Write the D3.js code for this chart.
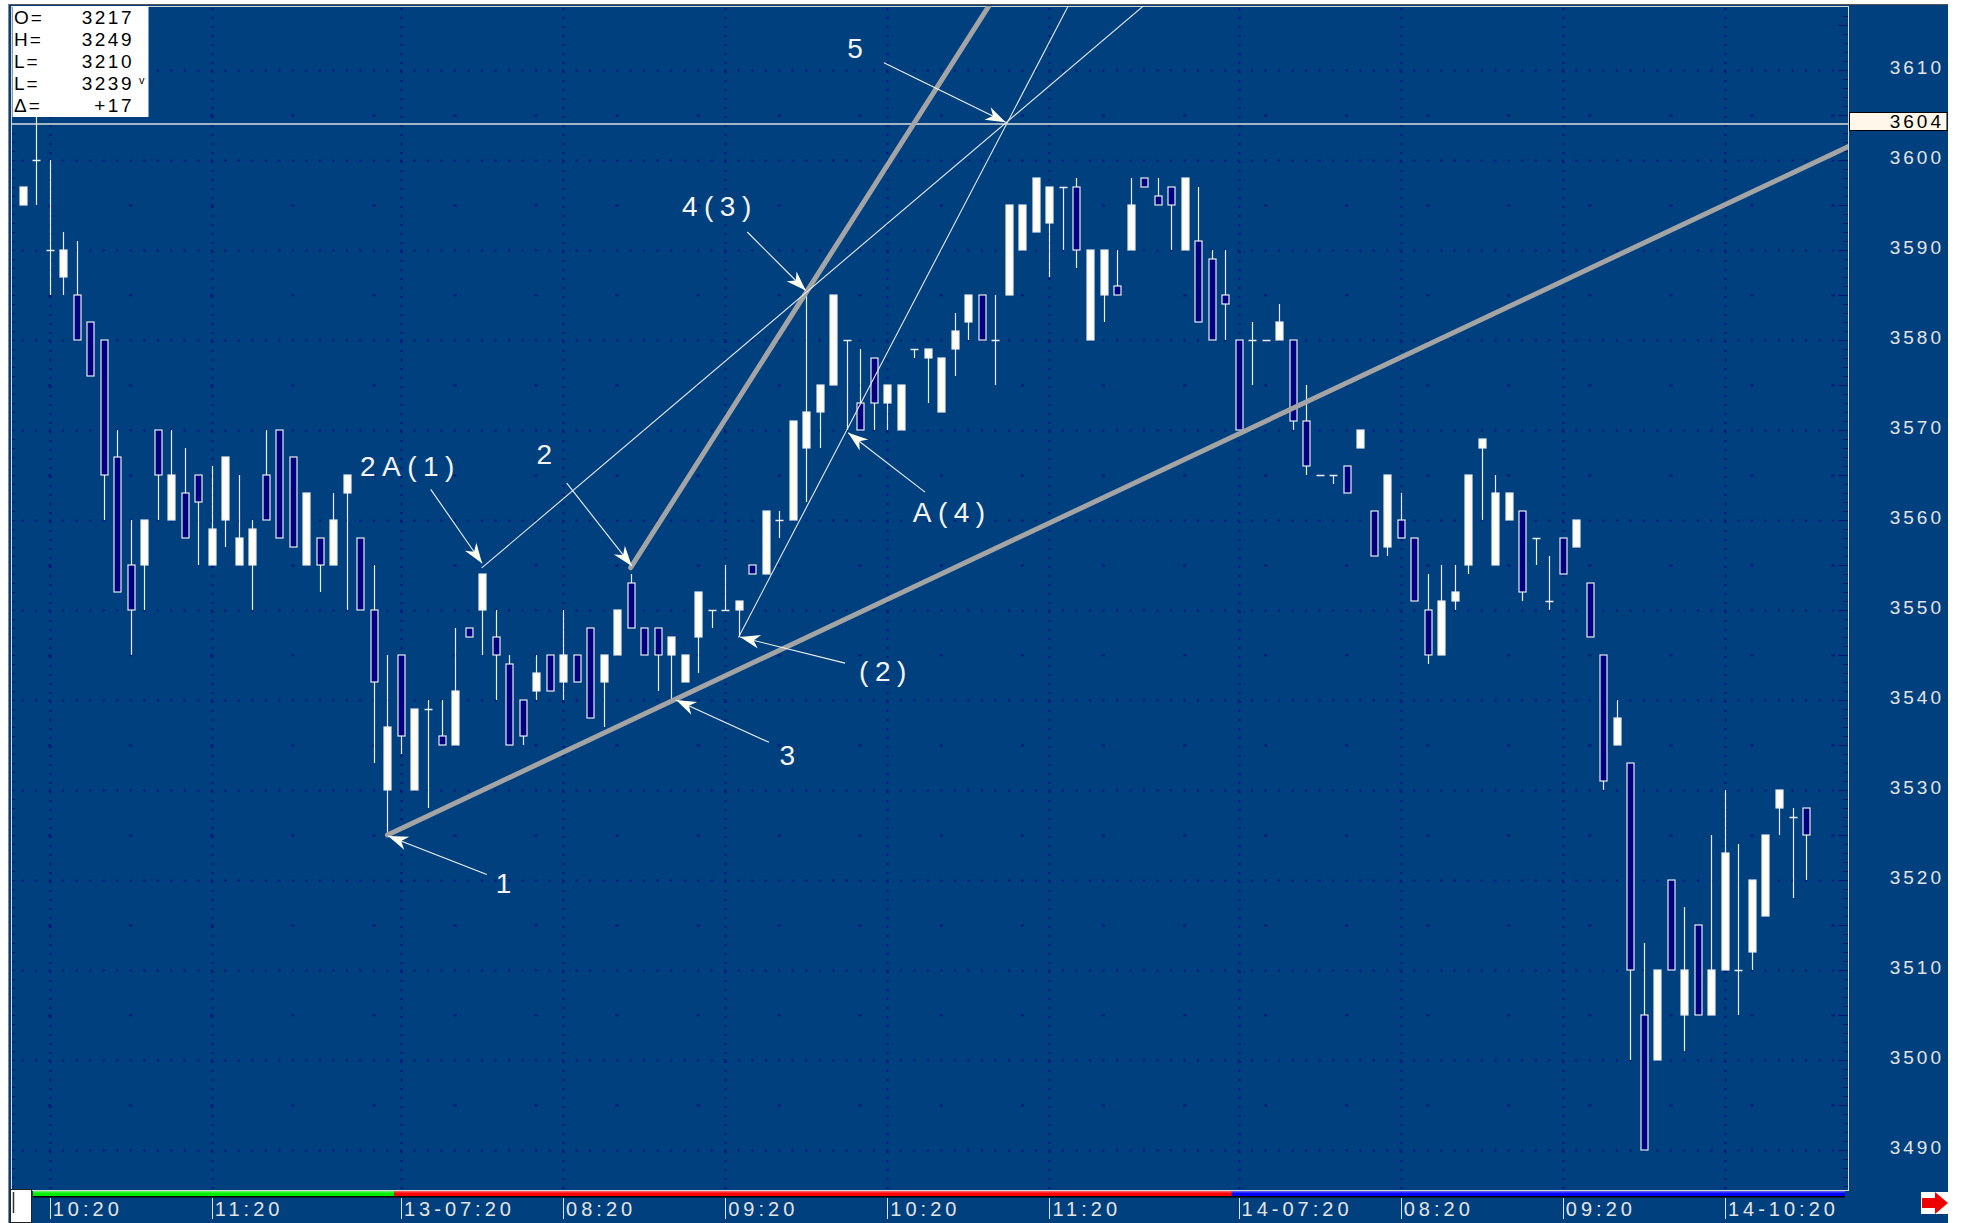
<!DOCTYPE html>
<html><head><meta charset="utf-8">
<script src="https://cdn.jsdelivr.net/npm/d3@7"></script>
<style>body{margin:0;background:#fff;} svg{display:block;}</style>
</head><body>
<script>
// ---------- DATA (5-minute candles, index 0..132) ----------
const opens  = [3595,3600,3590,3587,3585,3582,3580,3567,3555,3555,3570,3560,3563,3565,3555,3560,3555,3555,3565,3570,3567,3555,3558,3555,3563,3558,3550,3530,
 3545,3530,3539,3536,3535,3548,3550,3547,3544,3540,3541,3545,3542,3545,3548,3542,3545,3553,3548,3548,3545,3542,3547,3550,3550,3550,3555,3554,3560,3560,3568,3572,3575,3580,3573,3578,3573,3570,3579,3578,3572,3579,3582,3585,3580,3585,3590,3592,3593,3597,3597,3580,3585,3586,3590,3598,3596,3597,3590,3591,3589,3585,
 3580,3580,3580,3580,3580,3571,3565,3565,3566,3568,3561,3557,3560,3558,3550,3545,3551,3555,3568,3555,3560,3561,3558,3551,3558,3557,3553,3545,3535,3533,3505,3500,3520,3505,3515,3505,3510,3510,3512,3516,3528,3527,3528];
const highs  = [3597,3606,3600,3592,3591,3582,3580,3570,3560,3560,3570,3570,3568,3565,3566,3567,3565,3560,3570,3570,3567,3563,3558,3563,3565,3558,3555,3545,
 3545,3539,3540,3540,3548,3548,3554,3550,3545,3540,3545,3545,3550,3545,3548,3545,3550,3554,3548,3548,3547,3545,3552,3550,3555,3551,3555,3561,3561,3571,3585,3575,3585,3580,3579,3578,3575,3575,3579,3579,3578,3583,3585,3585,3585,3595,3595,3598,3597,3597,3598,3590,3590,3590,3598,3598,3598,3597,3598,3597,3590,3590,
 3580,3582,3580,3584,3580,3575,3565,3565,3566,3570,3561,3565,3563,3558,3554,3555,3555,3565,3569,3565,3563,3561,3558,3556,3558,3560,3553,3545,3540,3533,3513,3510,3520,3517,3515,3525,3530,3524,3520,3525,3530,3528,3528];
const lows   = [3595,3595,3585,3585,3580,3576,3560,3552,3545,3550,3560,3560,3558,3555,3555,3557,3555,3550,3560,3558,3557,3555,3552,3555,3550,3550,3533,3525,
 3534,3530,3528,3535,3535,3547,3545,3540,3535,3535,3540,3541,3540,3542,3538,3537,3545,3548,3545,3541,3540,3542,3543,3548,3550,3547,3554,3554,3558,3560,3562,3568,3575,3570,3570,3570,3570,3570,3578,3573,3572,3576,3580,3580,3575,3585,3590,3592,3587,3590,3588,3580,3582,3585,3590,3597,3595,3590,3590,3582,3580,3580,
 3570,3575,3580,3580,3570,3565,3565,3564,3563,3568,3556,3556,3558,3551,3544,3545,3550,3554,3560,3555,3560,3551,3555,3550,3554,3557,3547,3530,3535,3500,3490,3500,3510,3501,3505,3505,3510,3505,3510,3516,3525,3518,3520];
const closes = [3597,3600,3590,3590,3580,3576,3565,3552,3550,3560,3565,3565,3558,3562,3559,3567,3558,3559,3560,3558,3557,3563,3555,3560,3565,3550,3542,3537,
 3536,3539,3539,3535,3541,3547,3554,3545,3535,3536,3543,3541,3545,3542,3538,3545,3550,3548,3545,3545,3547,3545,3552,3550,3550,3551,3554,3561,3560,3571,3572,3575,3585,3580,3570,3573,3575,3575,3579,3579,3578,3581,3585,3580,3580,3595,3595,3598,3597,3597,3590,3590,3590,3585,3595,3597,3595,3595,3598,3582,3580,3584,
 3570,3580,3580,3582,3571,3566,3565,3565,3563,3570,3556,3565,3558,3551,3545,3551,3552,3565,3569,3563,3563,3552,3558,3551,3554,3560,3547,3531,3538,3510,3490,3510,3510,3510,3505,3510,3523,3510,3520,3525,3530,3527,3525];

// price axis ticks
const priceTicks = [3490,3500,3510,3520,3530,3540,3550,3560,3570,3580,3590,3600,3610];
// time axis: candle index of each label
const timeTickIdx    = [2,14,28,40,52,64,76,90,102,114,126];
const timeTickLabels = ["10:20","11:20","13-07:20","08:20","09:20","10:20","11:20","14-07:20","08:20","09:20","14-10:20"];
// sessions: first candle index of each day
const sessionFirst = [0,28,90];
// current price line
const lastPrice = 3604;
// info box
const infoKeys = ["O=","H=","L=","L=","\u0394="];
const infoVals = ["3217","3249","3210","3239","+17"];

// trend lines: anchor A (start), anchor B (direction), both as [candle index, price]
const trendStartIdx   = [27, 45, 34, 53];
const trendStartPrice = [3525, 3554.7, 3554.7, 3547];
const trendDirIdx     = [135, 58, 58, 61];
const trendDirPrice   = [3601.4, 3585.3, 3585.3, 3570];
const trendHeavy      = [true, true, false, false];

// annotations: label, label position, arrow start, arrow tip ([index, price])
const annoText      = ["1","2A(1)","2","3","(2)","A(4)","4(3)","5"];
const annoLabelIdx  = [35.6, 28.7, 38.6, 56.6, 63.9, 68.8, 51.6, 61.6];
const annoLabelPrc  = [3519.6, 3566, 3567.3, 3533.8, 3543.2, 3560.8, 3594.8, 3612.4];
const arrowFromIdx  = [34.35, 30.2, 40.27, 55.24, 60.87, 66.79, 53.63, 63.75];
const arrowFromPrc  = [3520.6, 3563.4, 3564.1, 3535.3, 3544.1, 3563.1, 3592.0, 3610.8];
const arrowToIdx    = [27.05, 34.0, 45.08, 48.36, 53.1, 61.1, 57.96, 72.75];
const arrowToPrc    = [3524.9, 3555.2, 3554.9, 3540.0, 3547.0, 3569.7, 3585.5, 3604.2];

// ---------- STYLE / LAYOUT ----------
const W = 1971, H = 1223;
const plot = {left: 11, top: 6, right: 1848, bottom: 1190};
const BG = "#00407f", NAVY = "#000080", GRIDC = "#00157a", TXT = "#e4e4e4";
const FONT = "'Liberation Sans', Arial, sans-serif";
const sessionColors = ["#00f000", "#ff0000", "#0000ff"];

const x = d3.scaleLinear().domain([0, 132]).range([22.7, 22.7 + 13.51 * 132]);
const y = d3.scaleLinear().domain([3490, 3600]).range([1150, 160]);
const n = opens.length;

const svg = d3.select("body").append("svg").attr("width", W).attr("height", H);
svg.append("rect").attr("width", W).attr("height", H).attr("fill", "#ffffff");
svg.append("rect").attr("x", 8).attr("y", 4).attr("width", 1940).attr("height", H - 4).attr("fill", BG);
svg.append("line").attr("x1", 8).attr("x2", 1948).attr("y1", 4.5).attr("y2", 4.5).attr("stroke", "#555").attr("stroke-width", 1);
svg.append("line").attr("x1", 8.5).attr("x2", 8.5).attr("y1", 4).attr("y2", H).attr("stroke", "#888").attr("stroke-width", 1);

const defs = svg.append("defs");
defs.append("clipPath").attr("id", "plotclip").append("rect")
  .attr("x", plot.left).attr("y", plot.top).attr("width", plot.right - plot.left).attr("height", plot.bottom - plot.top);

const grid = svg.append("g");
// major horizontal dotted lines (dots at each candle slot)
grid.selectAll(".hmaj").data(priceTicks).join("line")
  .attr("x1", x(0) - 1).attr("x2", plot.right - 2)
  .attr("y1", d => Math.round(y(d)) + 0.5).attr("y2", d => Math.round(y(d)) + 0.5)
  .attr("stroke", GRIDC).attr("stroke-width", 2).attr("stroke-dasharray", "2 11.51");
// half-level sparse dots
const halfLevels = priceTicks.map(d => d - 5).filter(d => y(d) < plot.bottom);
const halfSlots = d3.range(2, 136, 6);
halfLevels.forEach(lv => {
  grid.selectAll(null).data(halfSlots).join("rect")
    .attr("x", d => x(d) - 1.5).attr("y", Math.round(y(lv)) - 0.5).attr("width", 3).attr("height", 2)
    .attr("fill", GRIDC);
});
// vertical dotted lines at time ticks
grid.selectAll(".v").data(timeTickIdx).join("line")
  .attr("x1", d => Math.round(x(d)) + 0.5).attr("x2", d => Math.round(x(d)) + 0.5)
  .attr("y1", plot.top + 2).attr("y2", plot.bottom)
  .attr("stroke", GRIDC).attr("stroke-width", 2).attr("stroke-dasharray", "2 7");
// border ticks
const unitLevels = d3.range(3486, 3617, 1);
grid.selectAll(".lt").data(unitLevels).join("line")
  .attr("x1", plot.left).attr("x2", plot.left + 4)
  .attr("y1", d => Math.round(y(d)) + 0.5).attr("y2", d => Math.round(y(d)) + 0.5)
  .attr("stroke", GRIDC).attr("stroke-width", 1);
grid.selectAll(".rt").data(unitLevels).join("line")
  .attr("x1", d => plot.right - (d % 5 === 0 ? 10 : 5)).attr("x2", plot.right)
  .attr("y1", d => Math.round(y(d)) + 0.5).attr("y2", d => Math.round(y(d)) + 0.5)
  .attr("stroke", GRIDC).attr("stroke-width", 1);

// plot frame
svg.append("rect").attr("x", plot.left + 0.5).attr("y", plot.top + 0.5)
  .attr("width", plot.right - plot.left).attr("height", plot.bottom - plot.top)
  .attr("fill", "none").attr("stroke", "#d8d8d8").attr("stroke-width", 1);

// ---------- CANDLES ----------
const cg = svg.append("g").attr("clip-path", "url(#plotclip)");
const idxs = d3.range(n);
cg.selectAll(".wick").data(idxs).join("line")
  .attr("x1", i => Math.round(x(i)) + 0.5).attr("x2", i => Math.round(x(i)) + 0.5)
  .attr("y1", i => y(highs[i])).attr("y2", i => y(lows[i]))
  .attr("stroke", "#ececec").attr("stroke-width", 1.2);
cg.selectAll(".body").data(idxs.filter(i => opens[i] !== closes[i])).join("rect")
  .attr("x", i => Math.round(x(i)) - 3)
  .attr("y", i => y(Math.max(opens[i], closes[i])))
  .attr("width", 7)
  .attr("height", i => Math.abs(y(opens[i]) - y(closes[i])))
  .attr("fill", i => closes[i] > opens[i] ? "#fffff8" : NAVY)
  .attr("stroke", "#ececec").attr("stroke-width", 1.2);
cg.selectAll(".doji").data(idxs.filter(i => opens[i] === closes[i])).join("line")
  .attr("x1", i => Math.round(x(i)) - 3.5).attr("x2", i => Math.round(x(i)) + 4.5)
  .attr("y1", i => Math.round(y(opens[i])) + 0.5).attr("y2", i => Math.round(y(opens[i])) + 0.5)
  .attr("stroke", "#ececec").attr("stroke-width", 1.5);

// ---------- CURRENT PRICE LINE ----------
svg.append("line").attr("x1", plot.left).attr("x2", plot.right)
  .attr("y1", y(lastPrice)).attr("y2", y(lastPrice))
  .attr("stroke", "#dcdcdc").attr("stroke-width", 1.5);

// ---------- TREND LINES ----------
const tg = svg.append("g").attr("clip-path", "url(#plotclip)");
trendStartIdx.forEach((si, k) => {
  const x1 = x(si), y1 = y(trendStartPrice[k]);
  const x2 = x(trendDirIdx[k]), y2 = y(trendDirPrice[k]);
  const dx = x2 - x1, dy = y2 - y1, len = Math.hypot(dx, dy);
  const ext = 3000;
  tg.append("line")
    .attr("x1", x1).attr("y1", y1)
    .attr("x2", x1 + dx / len * ext).attr("y2", y1 + dy / len * ext)
    .attr("stroke", trendHeavy[k] ? "#a4a4a4" : "#e8e8e8")
    .attr("stroke-width", trendHeavy[k] ? 5 : 1.1)
    .attr("stroke-linecap", "round");
});

// ---------- ANNOTATIONS ----------
const ag = svg.append("g");
annoText.forEach((t, k) => {
  const fx = x(arrowFromIdx[k]), fy = y(arrowFromPrc[k]);
  const tx = x(arrowToIdx[k]), ty = y(arrowToPrc[k]);
  const ang = Math.atan2(ty - fy, tx - fx) * 180 / Math.PI;
  ag.append("line").attr("x1", fx).attr("y1", fy).attr("x2", tx).attr("y2", ty)
    .attr("stroke", "#f0f0f0").attr("stroke-width", 1.1);
  ag.append("path").attr("d", "M0,0 L-20,-7 L-14,0 L-20,7 Z")
    .attr("transform", `translate(${tx},${ty}) rotate(${ang})`)
    .attr("fill", "#fffff0");
  ag.append("text").attr("x", x(annoLabelIdx[k])).attr("y", y(annoLabelPrc[k]))
    .attr("text-anchor", "middle").attr("dominant-baseline", "central")
    .attr("fill", "#f4f4f4").attr("font-family", FONT).attr("font-size", 28)
    .attr("letter-spacing", t.length > 1 ? 6.5 : 0)
    .text(t);
});

// ---------- INFO BOX ----------
svg.append("rect").attr("x", 12.5).attr("y", 6).attr("width", 136).attr("height", 111).attr("fill", "#ffffff");
infoKeys.forEach((k, i) => {
  const by = 24 + i * 22.1;
  svg.append("text").attr("x", 14).attr("y", by).attr("fill", "#000")
    .attr("font-family", FONT).attr("font-size", 19).attr("letter-spacing", 2).text(k);
  svg.append("text").attr("x", 134).attr("y", by).attr("fill", "#000").attr("text-anchor", "end")
    .attr("font-family", FONT).attr("font-size", 19).attr("letter-spacing", 2.5).text(infoVals[i]);
});
svg.append("text").attr("x", 139).attr("y", 84).attr("fill", "#000")
  .attr("font-family", FONT).attr("font-size", 11).text("v");

// ---------- RIGHT PRICE AXIS ----------
const rg = svg.append("g");
rg.selectAll("text").data(priceTicks).join("text")
  .attr("x", 1944).attr("y", d => y(d) - 3)
  .attr("text-anchor", "end").attr("dominant-baseline", "central")
  .attr("fill", TXT).attr("font-family", FONT).attr("font-size", 19).attr("letter-spacing", 3)
  .text(d => d);
rg.append("rect").attr("x", 1849.5).attr("y", y(lastPrice) - 11.5).attr("width", 97.5).attr("height", 18)
  .attr("fill", "#fff8ea").attr("stroke", "#000").attr("stroke-width", 1);
rg.append("text").attr("x", 1944).attr("y", y(lastPrice) - 2.5)
  .attr("text-anchor", "end").attr("dominant-baseline", "central")
  .attr("fill", "#000").attr("font-family", FONT).attr("font-size", 19).attr("letter-spacing", 3)
  .text(lastPrice);

// ---------- BOTTOM TIME AXIS ----------
const bg = svg.append("g");
const sessBounds = sessionFirst.map(s => x(s - 0.5)).concat([plot.right - 3]);
sessionFirst.forEach((s, k) => {
  const xa = Math.max(sessBounds[k], 33), xb = sessBounds[k + 1];
  bg.append("rect").attr("x", xa).attr("y", 1191).attr("width", xb - xa).attr("height", 5)
    .attr("fill", sessionColors[k]);
  bg.append("rect").attr("x", xa).attr("y", 1191).attr("width", xb - xa).attr("height", 1.5)
    .attr("fill", "#ffffff").attr("opacity", 0.35);
});
bg.append("rect").attr("x", 33).attr("y", 1196).attr("width", plot.right - 36).attr("height", 1.5).attr("fill", "#000");
bg.selectAll(".tk").data(timeTickIdx).join("line")
  .attr("x1", d => Math.round(x(d)) + 0.5).attr("x2", d => Math.round(x(d)) + 0.5)
  .attr("y1", 1198).attr("y2", 1219).attr("stroke", TXT).attr("stroke-width", 1);
bg.selectAll(".tl").data(timeTickIdx).join("text")
  .attr("x", d => x(d) + 3).attr("y", 1215.5)
  .attr("fill", TXT).attr("font-family", FONT).attr("font-size", 20).attr("letter-spacing", 4)
  .text((d, i) => timeTickLabels[i]);
// scroll box at left
bg.append("rect").attr("x", 10.5).attr("y", 1189.5).attr("width", 21).attr("height", 33)
  .attr("fill", "#ffffff").attr("stroke", "#222").attr("stroke-width", 1);
bg.append("line").attr("x1", 13.5).attr("x2", 13.5).attr("y1", 1192).attr("y2", 1213)
  .attr("stroke", "#333").attr("stroke-width", 1.5);
// red arrow at the bottom right
bg.append("rect").attr("x", 1921).attr("y", 1192).attr("width", 27).attr("height", 22).attr("fill", "#ffffff");
bg.append("path").attr("d", "M1922,1198 L1935,1198 L1935,1192 L1948,1203 L1935,1214 L1935,1208 L1922,1208 Z")
  .attr("fill", "#ee0000");
</script>
</body></html>
